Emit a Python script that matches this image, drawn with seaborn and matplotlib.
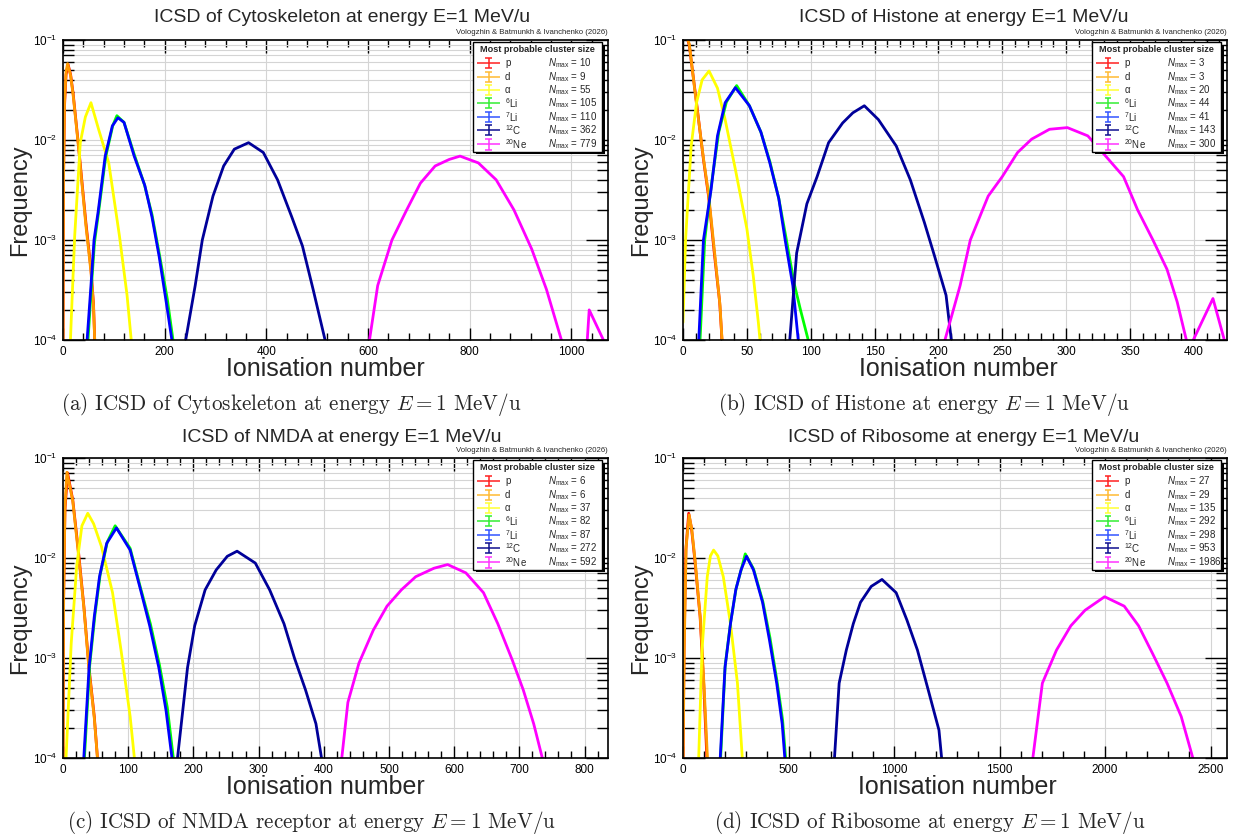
import numpy as np
import pandas as pd
import matplotlib
matplotlib.use("Agg")
import matplotlib.pyplot as plt
import seaborn as sns
from matplotlib.ticker import MultipleLocator, LogLocator, NullFormatter
from matplotlib.patches import Rectangle

# ---------------- data ----------------
PARTICLES = ["p", "d", "alpha", "Li6", "Li7", "C12", "Ne20"]
LEGEND_LABELS = ["p", "d", "\u03b1", r"$^{6}$Li", r"$^{7}$Li", r"$^{12}$C", r"$^{20}$Ne"]
COLORS = {"p": "#ff0000", "d": "#ff9900", "alpha": "#ffff00", "Li6": "#00ff00",
          "Li7": "#0000ff", "C12": "#000099", "Ne20": "#ff00ff"}
LEGEND_COLORS = ["#ff2020", "#ffbb33", "#ffff33", "#33ee33", "#3355ff", "#101090", "#ff33ff"]

# (a) Cytoskeleton
cyto_p_x = [0, 1, 3, 6, 10, 15, 20, 30, 45, 55, 60, 63]
cyto_p_y = [8e-5, 4e-3, 0.022, 0.045, 0.057, 0.045, 0.029, 9.3e-3, 1.5e-3, 5.1e-4, 2.3e-4, 8e-5]
cyto_d_x = [0, 1, 3, 6, 9, 15, 20, 30, 45, 55, 60, 63]
cyto_d_y = [8e-5, 4e-3, 0.024, 0.048, 0.058, 0.044, 0.028, 9.0e-3, 1.4e-3, 4.8e-4, 2.2e-4, 8e-5]
cyto_alpha_x = [14, 16, 23, 34, 44, 55, 70, 90, 111, 126, 136]
cyto_alpha_y = [8e-5, 1.5e-4, 1.1e-3, 9.4e-3, 0.017, 0.0236, 0.0128, 5.9e-3, 1.1e-3, 2.8e-4, 8e-5]
cyto_li6_x = [48, 56, 62, 70, 84, 98, 106, 120, 140, 160, 175, 190, 205, 219]
cyto_li6_y = [8e-5, 3.5e-4, 9.5e-4, 1.9e-3, 6.8e-3, 0.014, 0.0175, 0.015, 7.2e-3, 3.6e-3, 1.8e-3, 7.0e-4, 2.6e-4, 8e-5]
cyto_li7_x = [46, 55, 61, 69, 83, 97, 108, 120, 140, 161, 175, 189, 203, 217]
cyto_li7_y = [8e-5, 3.5e-4, 1.0e-3, 1.9e-3, 6.9e-3, 0.0138, 0.0167, 0.015, 6.9e-3, 3.5e-3, 1.7e-3, 6.9e-4, 2.4e-4, 8e-5]
cyto_c12_x = [238, 260, 274, 295, 316, 337, 365, 394, 422, 450, 471, 492, 520]
cyto_c12_y = [8e-5, 3.5e-4, 1.0e-3, 2.75e-3, 5.5e-3, 8.1e-3, 9.4e-3, 7.5e-3, 4.0e-3, 1.7e-3, 8.7e-4, 3.2e-4, 8e-5]
cyto_ne20_x = [600, 619, 647, 676, 703, 732, 760, 781, 817, 852, 887, 922, 951, 986, 1030, 1035, 1072]
cyto_ne20_y = [8e-5, 3.5e-4, 1.0e-3, 2.0e-3, 3.7e-3, 5.5e-3, 6.4e-3, 6.9e-3, 5.9e-3, 4.0e-3, 2.0e-3, 8.1e-4, 3.2e-4, 8e-5, 8e-5, 2.0e-4, 8e-5]
cyto_nmax = [10, 9, 55, 105, 110, 362, 779]

# (b) Histone
hist_p_x = [0, 3, 5, 10.6, 16, 20, 24.5, 28.7, 31]
hist_p_y = [0.12, 0.11, 0.087, 0.0236, 6.4e-3, 2.75e-3, 7.4e-4, 2.4e-4, 8e-5]
hist_d_x = [0, 3, 5, 10, 16, 20, 25, 29, 31]
hist_d_y = [0.12, 0.11, 0.09, 0.026, 6.6e-3, 2.9e-3, 7.0e-4, 2.2e-4, 8e-5]
hist_alpha_x = [0, 2, 6.4, 10.6, 15, 20.4, 27, 33, 41, 50, 55, 59, 61]
hist_alpha_y = [1.5e-4, 1e-3, 8.7e-3, 0.0236, 0.040, 0.049, 0.033, 0.016, 5.1e-3, 1.3e-3, 4.4e-4, 1.5e-4, 8e-5]
hist_li6_x = [13, 17, 22, 28, 34, 42, 52, 61, 68, 75, 81, 87, 92, 100]
hist_li6_y = [8e-5, 1e-3, 3.4e-3, 0.012, 0.024, 0.035, 0.022, 0.012, 6.1e-3, 2.6e-3, 1e-3, 3.7e-4, 2e-4, 8e-5]
hist_li7_x = [12, 16, 22, 27, 33, 41, 52, 61, 68, 75, 80, 86, 91]
hist_li7_y = [8e-5, 1e-3, 3.2e-3, 0.011, 0.0236, 0.0334, 0.022, 0.012, 5.9e-3, 2.6e-3, 1e-3, 3.5e-4, 8e-5]
hist_c12_x = [83, 89, 97, 105, 114, 125, 133, 142, 153, 167, 178, 189, 197, 206, 211]
hist_c12_y = [8e-5, 7.4e-4, 2.3e-3, 4.3e-3, 9.4e-3, 0.0148, 0.0187, 0.022, 0.016, 8.7e-3, 4.0e-3, 1.5e-3, 6.9e-4, 2.8e-4, 8e-5]
hist_ne20_x = [203, 217, 225, 239, 250, 262, 273, 287, 301, 317, 331, 345, 356, 368, 379, 387, 396, 415, 426]
hist_ne20_y = [8e-5, 3.5e-4, 1e-3, 2.75e-3, 4.3e-3, 7.5e-3, 0.0102, 0.0128, 0.0133, 0.011, 6.9e-3, 4.3e-3, 2.0e-3, 1e-3, 5.1e-4, 2.4e-4, 8e-5, 2.6e-4, 8e-5]
hist_nmax = [3, 3, 20, 44, 41, 143, 300]

# (c) NMDA receptor
nmda_p_x = [0, 1, 3, 7, 15, 23.5, 32, 40, 48, 54]
nmda_p_y = [8e-5, 4e-3, 0.03, 0.071, 0.038, 0.012, 3.3e-3, 7.9e-4, 2.6e-4, 8e-5]
nmda_d_x = [0, 1, 3, 6, 15, 23, 32, 40, 48, 54]
nmda_d_y = [8e-5, 4e-3, 0.032, 0.072, 0.037, 0.012, 3.2e-3, 7.5e-4, 2.5e-4, 8e-5]
nmda_alpha_x = [4, 12.6, 21, 29, 38, 47, 59, 76, 89, 103, 111]
nmda_alpha_y = [8e-5, 1.4e-3, 8.3e-3, 0.021, 0.028, 0.022, 0.013, 4.5e-3, 1.2e-3, 2.6e-4, 8e-5]
nmda_li6_x = [32, 41, 49, 57, 68, 80, 103, 119, 134, 148, 160, 171]
nmda_li6_y = [8e-5, 8.5e-4, 2.7e-3, 6.8e-3, 0.0145, 0.021, 0.0125, 5e-3, 2.2e-3, 8.5e-4, 3.2e-4, 8e-5]
nmda_li7_x = [31, 40, 48, 56, 67, 82, 103, 119, 133, 147, 158, 169]
nmda_li7_y = [8e-5, 8e-4, 2.6e-3, 6.5e-3, 0.014, 0.02, 0.012, 4.8e-3, 2.1e-3, 8e-4, 3e-4, 8e-5]
nmda_c12_x = [174, 191, 202, 218, 235, 252, 267, 295, 317, 339, 355, 372, 388, 399]
nmda_c12_y = [8e-5, 8e-4, 2.1e-3, 4.8e-3, 7.6e-3, 0.0104, 0.0117, 8.9e-3, 4.8e-3, 2.2e-3, 1e-3, 4.8e-4, 2.2e-4, 8e-5]
nmda_ne20_x = [426, 437, 454, 476, 497, 519, 541, 569, 590, 618, 645, 667, 689, 706, 722, 739]
nmda_ne20_y = [8e-5, 3.6e-4, 8.9e-4, 1.9e-3, 3.3e-3, 4.8e-3, 6.5e-3, 7.9e-3, 8.6e-3, 7.1e-3, 4.5e-3, 2.2e-3, 9.6e-4, 4.8e-4, 2.2e-4, 8e-5]
nmda_nmax = [6, 6, 37, 82, 87, 272, 592]

# (d) Ribosome
ribo_p_x = [0, 5, 13.5, 27, 40, 56, 81, 98, 115]
ribo_p_y = [8e-5, 1.2e-3, 0.012, 0.028, 0.02, 9.6e-3, 2.6e-3, 5.6e-4, 8e-5]
ribo_d_x = [0, 6, 15, 29, 42, 58, 82, 100, 118]
ribo_d_y = [8e-5, 1.3e-3, 0.013, 0.027, 0.019, 9.2e-3, 2.5e-3, 5.2e-4, 8e-5]
ribo_alpha_x = [73, 90, 115, 130, 145, 165, 191, 225, 258, 284]
ribo_alpha_y = [8e-5, 1.2e-3, 6.5e-3, 0.0105, 0.012, 0.0105, 6.5e-3, 2.2e-3, 5.6e-4, 8e-5]
ribo_li6_x = [176, 200, 226, 252, 277, 295, 334, 378, 412, 446, 472, 490]
ribo_li6_y = [8e-5, 8.5e-4, 2.3e-3, 5e-3, 7.8e-3, 0.011, 7.8e-3, 3.7e-3, 1.6e-3, 5.8e-4, 2.4e-4, 8e-5]
ribo_li7_x = [174, 199, 225, 250, 275, 301, 334, 377, 410, 444, 470, 486]
ribo_li7_y = [8e-5, 8e-4, 2.2e-3, 4.8e-3, 7.6e-3, 0.0104, 7.6e-3, 3.6e-3, 1.5e-3, 5.6e-4, 2.2e-4, 8e-5]
ribo_c12_x = [715, 740, 774, 807, 841, 892, 943, 1010, 1061, 1111, 1162, 1213, 1230]
ribo_c12_y = [8e-5, 5.6e-4, 1.2e-3, 2.2e-3, 3.6e-3, 5.2e-3, 6.1e-3, 4.5e-3, 2.4e-3, 1.2e-3, 4.8e-4, 1.9e-4, 8e-5]
ribo_ne20_x = [1652, 1703, 1770, 1838, 1905, 1998, 2091, 2159, 2226, 2294, 2361, 2429]
ribo_ne20_y = [8e-5, 5.6e-4, 1.2e-3, 2.1e-3, 3.0e-3, 4.1e-3, 3.3e-3, 2.1e-3, 1.1e-3, 5.6e-4, 2.6e-4, 8e-5]
ribo_nmax = [27, 29, 135, 292, 298, 953, 1986]

TITLES = ["ICSD of Cytoskeleton at energy E=1 MeV/u", "ICSD of Histone at energy E=1 MeV/u",
          "ICSD of NMDA at energy E=1 MeV/u", "ICSD of Ribosome at energy E=1 MeV/u"]
CAPTIONS = [r"(a) ICSD of Cytoskeleton at energy $E = 1$ MeV/u",
            r"(b) ICSD of Histone at energy $E = 1$ MeV/u",
            r"(c) ICSD of NMDA receptor at energy $E = 1$ MeV/u",
            r"(d) ICSD of Ribosome at energy $E = 1$ MeV/u"]
XMAX = [1072, 426, 836, 2578]
XMAJOR = [200, 50, 100, 500]
CREDIT = "Vologzhin & Batmunkh & Ivanchenko (2026)"

PANELS = [
    dict(series=[(cyto_p_x, cyto_p_y), (cyto_d_x, cyto_d_y), (cyto_alpha_x, cyto_alpha_y),
                 (cyto_li6_x, cyto_li6_y), (cyto_li7_x, cyto_li7_y), (cyto_c12_x, cyto_c12_y),
                 (cyto_ne20_x, cyto_ne20_y)], nmax=cyto_nmax),
    dict(series=[(hist_p_x, hist_p_y), (hist_d_x, hist_d_y), (hist_alpha_x, hist_alpha_y),
                 (hist_li6_x, hist_li6_y), (hist_li7_x, hist_li7_y), (hist_c12_x, hist_c12_y),
                 (hist_ne20_x, hist_ne20_y)], nmax=hist_nmax),
    dict(series=[(nmda_p_x, nmda_p_y), (nmda_d_x, nmda_d_y), (nmda_alpha_x, nmda_alpha_y),
                 (nmda_li6_x, nmda_li6_y), (nmda_li7_x, nmda_li7_y), (nmda_c12_x, nmda_c12_y),
                 (nmda_ne20_x, nmda_ne20_y)], nmax=nmda_nmax),
    dict(series=[(ribo_p_x, ribo_p_y), (ribo_d_x, ribo_d_y), (ribo_alpha_x, ribo_alpha_y),
                 (ribo_li6_x, ribo_li6_y), (ribo_li7_x, ribo_li7_y), (ribo_c12_x, ribo_c12_y),
                 (ribo_ne20_x, ribo_ne20_y)], nmax=ribo_nmax),
]

# ---------------- style ----------------
sns.set_theme(style="white")
plt.rcParams["font.family"] = ["Liberation Sans", "DejaVu Sans"]
plt.rcParams["mathtext.fontset"] = "custom"
plt.rcParams["mathtext.rm"] = "Liberation Sans"
plt.rcParams["mathtext.it"] = "Liberation Sans:italic"
plt.rcParams["mathtext.bf"] = "Liberation Sans:bold"

W, H = 1249, 836
fig = plt.figure(figsize=(W / 100, H / 100), dpi=100)
fig.patch.set_facecolor("white")

AX_POS = [
    [63 / W, 1 - 340 / H, 545 / W, 300 / H],
    [683 / W, 1 - 340 / H, 544 / W, 300 / H],
    [63 / W, 1 - 758 / H, 545 / W, 300 / H],
    [683 / W, 1 - 758 / H, 544 / W, 300 / H],
]
TITLE_XY = [(342 / W, 1 - 18 / H), (964 / W, 1 - 18 / H), (342 / W, 1 - 437 / H), (964 / W, 1 - 437 / H)]
XLAB_XY = [(325 / W, 1 - 369 / H), (958 / W, 1 - 369 / H), (325 / W, 1 - 787 / H), (957 / W, 1 - 787 / H)]
YLAB_XY = [(20 / W, 1 - 200 / H), (641 / W, 1 - 200 / H), (20 / W, 1 - 618 / H), (641 / W, 1 - 618 / H)]
CAP_XY = [(291 / W, 1 - 404 / H), (924 / W, 1 - 404 / H), (311 / W, 1 - 822 / H), (930 / W, 1 - 822 / H)]


def draw_legend(ax, nmax):
    x0, x1, y0, y1 = 0.752, 0.989, 0.628, 0.992
    shx, shy = 0.005, 0.009
    ax.add_patch(Rectangle((x0 + shx, y0 - shy), x1 - x0, y1 - y0, transform=ax.transAxes,
                           facecolor="black", edgecolor="black", lw=0, zorder=20, clip_on=False))
    ax.add_patch(Rectangle((x0, y0), x1 - x0, y1 - y0, transform=ax.transAxes,
                           facecolor="white", edgecolor="black", lw=1.0, zorder=21, clip_on=False))
    ax.text((x0 + x1) / 2, 0.968, "Most probable cluster size", transform=ax.transAxes,
            ha="center", va="center", fontsize=6.6, fontweight="bold", zorder=22)
    ys = [0.924, 0.878, 0.834, 0.789, 0.744, 0.699, 0.652]
    for i, yy in enumerate(ys):
        c = LEGEND_COLORS[i]
        kw = dict(transform=ax.transAxes, color=c, lw=1.1, zorder=22, clip_on=False,
                  solid_capstyle="butt")
        ax.plot([0.760, 0.802], [yy, yy], **kw)
        ax.plot([0.781, 0.781], [yy - 0.017, yy + 0.017], **kw)
        ax.plot([0.775, 0.787], [yy - 0.017, yy - 0.017], **kw)
        ax.plot([0.775, 0.787], [yy + 0.017, yy + 0.017], **kw)
        ax.text(0.811, yy, LEGEND_LABELS[i], transform=ax.transAxes, ha="left", va="center",
                fontsize=7, zorder=22)
        ax.text(0.890, yy, r"$N_{\mathrm{max}}$ = %d" % nmax[i], transform=ax.transAxes,
                ha="left", va="center", fontsize=7, zorder=22)


for k, panel in enumerate(PANELS):
    ax = fig.add_axes(AX_POS[k])
    rows = []
    for name, (xs, ys) in zip(PARTICLES, panel["series"]):
        for xv, yv in zip(xs, ys):
            rows.append((name, xv, yv))
    df = pd.DataFrame(rows, columns=["particle", "x", "y"])
    ax.set_yscale("log")
    sns.lineplot(data=df, x="x", y="y", hue="particle", hue_order=PARTICLES, palette=COLORS,
                 estimator=None, sort=False, legend=False, lw=2.0, ax=ax)
    ax.set_xlim(0, XMAX[k])
    ax.set_ylim(1e-4, 1e-1)
    ax.set_xlabel("")
    ax.set_ylabel("")

    ax.xaxis.set_major_locator(MultipleLocator(XMAJOR[k]))
    ax.xaxis.set_minor_locator(MultipleLocator(XMAJOR[k] / 5))
    ax.yaxis.set_major_locator(LogLocator(base=10, numticks=10))
    ax.yaxis.set_minor_locator(LogLocator(base=10, subs=np.arange(2, 10), numticks=20))
    ax.yaxis.set_minor_formatter(NullFormatter())

    ax.tick_params(which="both", direction="in", top=True, right=True, bottom=True, left=True,
                   colors="black", labelsize=8.5, width=1.0)
    ax.tick_params(axis="x", which="major", length=9, pad=4)
    ax.tick_params(axis="x", which="minor", length=5)
    ax.tick_params(axis="y", which="major", length=16, pad=4)
    ax.tick_params(axis="y", which="minor", length=8)

    ax.grid(True, which="major", axis="x", color="#d4d4d4", lw=0.8)
    ax.grid(True, which="both", axis="y", color="#d4d4d4", lw=0.8)
    ax.set_axisbelow(True)
    for s in ax.spines.values():
        s.set_color("black")
        s.set_linewidth(1.2)
        s.set_zorder(30)

    draw_legend(ax, panel["nmax"])
    ax.text(1.0, 1.012, CREDIT, transform=ax.transAxes, ha="right", va="bottom", fontsize=5.6)

    fig.text(*TITLE_XY[k], TITLES[k], ha="center", va="center", fontsize=14)
    fig.text(*XLAB_XY[k], "Ionisation number", ha="center", va="center", fontsize=18)
    fig.text(*YLAB_XY[k], "Frequency", ha="center", va="center", rotation=90, fontsize=17)
    fig.text(*CAP_XY[k], CAPTIONS[k], ha="center", va="center", fontsize=15.2,
             family="cmr10", math_fontfamily="cm")

fig.savefig("out.png", dpi=100, facecolor="white")
